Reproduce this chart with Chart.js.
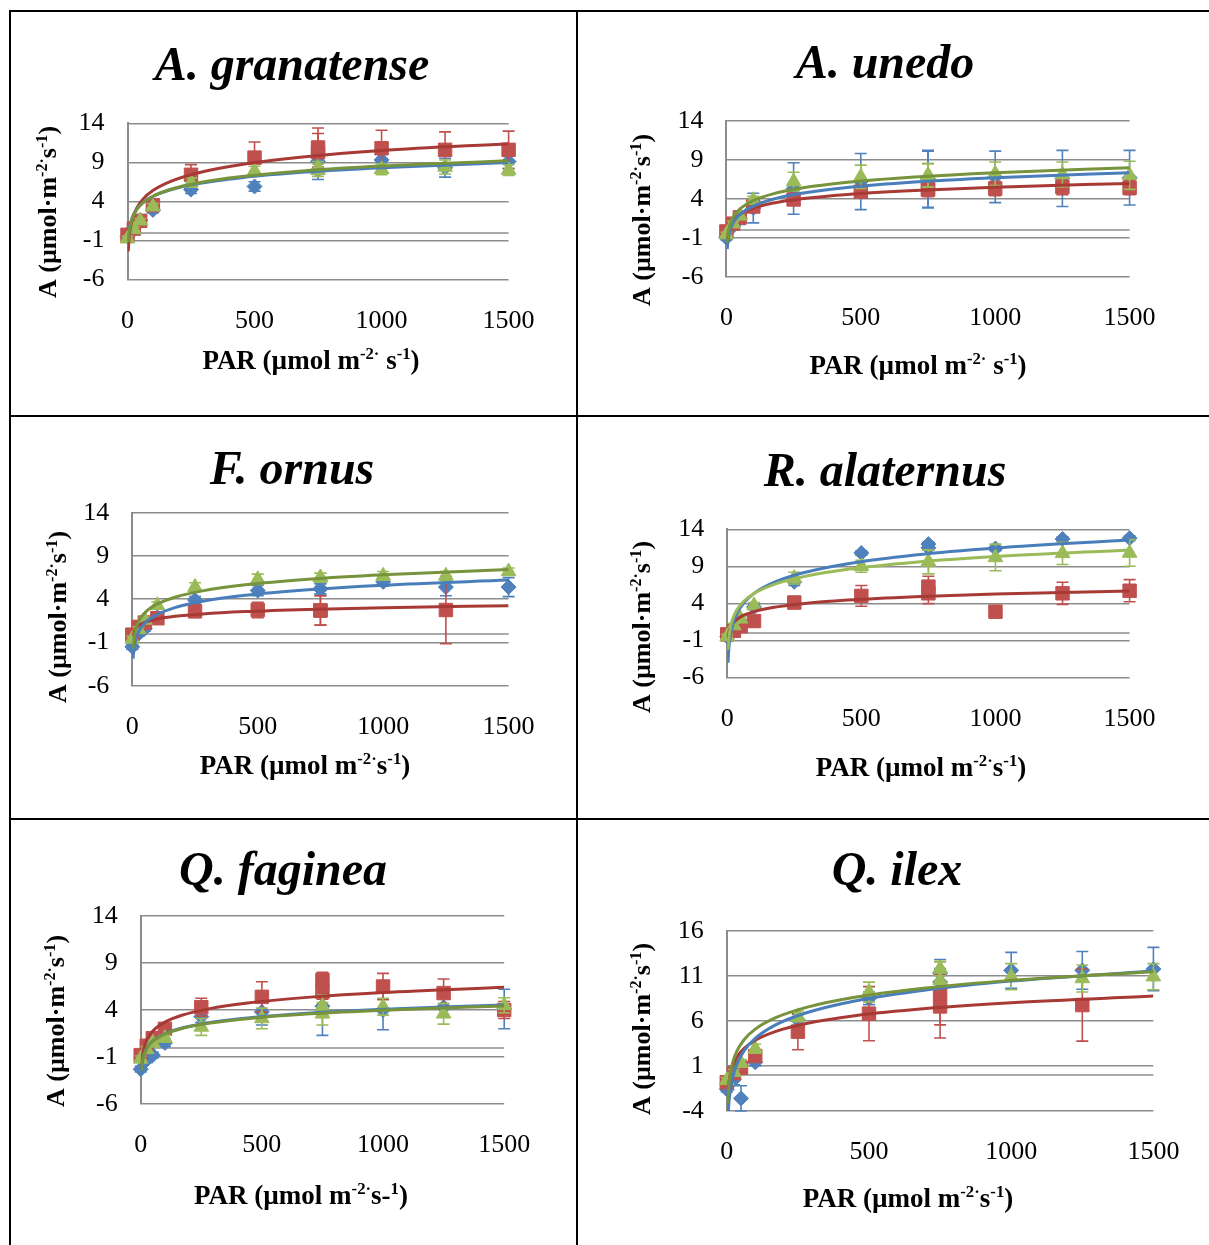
<!DOCTYPE html>
<html><head><meta charset="utf-8">
<script src="https://cdn.jsdelivr.net/npm/chart.js@4.4.0/dist/chart.umd.min.js"></script>
<style>
html,body{margin:0;padding:0;background:#fff;}
#page{position:relative;width:1209px;height:1245px;overflow:hidden;background:#fff;}
.ln{position:absolute;background:#000;}
canvas{position:absolute;}
</style></head><body><div id="page"></div>
<script>
// ---------------- DATA ----------------
const PAR = [0, 25, 50, 100, 250, 500, 750, 750, 1000, 1250, 1500];
const FIT_PAR = [3, 6, 10, 20, 35, 60, 100, 170, 280, 450, 700, 1000, 1500];
const xTickValues = [0, 500, 1000, 1500];
const yTicksA = [-6, -1, 4, 9, 14];
const yTicksB = [-4, 1, 6, 11, 16];
const panelTitles = ["A. granatense", "A. unedo", "F. ornus", "R. alaternus", "Q. faginea", "Q. ilex"];
const xTitles = ["PAR (µmol m^{-2·} s^{-1})", "PAR (µmol m^{-2·} s^{-1})", "PAR (µmol m^{-2·}s^{-1})",
                 "PAR (µmol m^{-2·}s^{-1})", "PAR (µmol m^{-2·}s-^{1})", "PAR (µmol m^{-2·}s^{-1})"];
const yTitle = "A (µmol·m^{-2·}s^{-1})";

// A. granatense
const granBlue = [-0.5, 0.6, 1.6, 2.9, 5.5, 5.9, 9.1, 8.0, 9.3, 8.3, 9.1];
const granBlueErr = [0.3, 0.3, 0.3, 0.4, 0.5, 0.6, 1.3, 1.2, 1.0, 1.2, 0.9];
const granRed = [-0.3, 0.5, 1.5, 3.5, 7.4, 9.6, 10.9, 10.3, 10.8, 10.6, 10.6];
const granRedErr = [0.3, 0.3, 0.4, 0.5, 1.3, 2.0, 2.5, 2.4, 2.3, 2.3, 2.4];
const granGreen = [-0.8, 0.4, 1.5, 3.3, 6.4, 7.9, 8.3, 8.0, 8.1, 8.4, 8.0];
const granGreenErr = [0.3, 0.3, 0.3, 0.4, 0.6, 0.6, 0.8, 0.8, 0.7, 0.9, 0.7];
const granBlueFit = [-0.98, 0.13, 0.94, 2.05, 2.95, 3.81, 4.63, 5.48, 6.28, 7.03, 7.74, 8.31, 8.96];
const granRedFit = [-2.40, -0.86, 0.27, 1.81, 3.05, 4.25, 5.38, 6.56, 7.67, 8.72, 9.70, 10.50, 11.39];
const granGreenFit = [-1.24, -0.08, 0.78, 1.94, 2.88, 3.79, 4.65, 5.54, 6.38, 7.17, 7.92, 8.52, 9.20];

// A. unedo
const unedoBlue = [-1.0, 0.5, 1.5, 2.8, 5.3, 6.2, 6.5, 6.5, 6.8, 6.6, 6.7];
const unedoBlueErr = [0.3, 0.4, 0.8, 1.9, 3.3, 3.6, 3.7, 3.6, 3.3, 3.6, 3.5];
const unedoRed = [-0.2, 0.8, 1.6, 3.0, 3.9, 4.9, 5.2, 5.2, 5.3, 5.5, 5.4];
const unedoRedErr = [0.3, 0.3, 0.4, 0.6, 0.6, 0.8, 0.9, 0.9, 0.9, 1.0, 0.9];
const unedoGreen = [-0.6, 0.8, 1.8, 3.8, 6.2, 6.8, 7.0, 7.0, 7.2, 7.1, 7.0];
const unedoGreenErr = [0.3, 0.3, 0.4, 0.5, 1.2, 1.5, 1.5, 1.5, 1.5, 1.6, 1.8];
const unedoBlueFit = [-2.46, -1.37, -0.56, 0.53, 1.41, 2.26, 3.06, 3.90, 4.69, 5.43, 6.13, 6.69, 7.33];
const unedoRedFit = [-1.31, -0.50, 0.09, 0.91, 1.56, 2.19, 2.79, 3.41, 3.99, 4.55, 5.06, 5.48, 5.96];
const unedoGreenFit = [-1.70, -0.62, 0.17, 1.25, 2.12, 2.96, 3.76, 4.58, 5.36, 6.10, 6.78, 7.34, 7.97];

// F. ornus
const ornusBlue = [-1.5, 0.0, 0.6, 1.9, 3.9, 5.0, 5.2, 5.2, 6.0, 5.4, 5.4];
const ornusBlueErr = [0.3, 0.3, 0.3, 0.4, 0.4, 0.6, 0.6, 0.6, 0.5, 1.0, 1.1];
const ornusRed = [-0.1, 0.8, 1.3, 1.8, 2.6, 2.75, 2.7, 2.7, null, 2.75, null];
const ornusRedErr = [0.3, 0.3, 0.3, 0.3, 0.7, 0.9, 1.7, 1.7, null, 3.9, null];
const ornusGreen = [-0.6, 0.5, 1.6, 3.3, 5.4, 6.3, 6.5, 6.5, 6.7, 6.7, 7.2];
const ornusGreenErr = [0.3, 0.3, 0.3, 0.4, 0.5, 0.6, 0.5, 0.5, 0.5, 0.5, 0.4];
const ornusBlueFit = [-2.87, -1.85, -1.11, -0.10, 0.72, 1.51, 2.25, 3.03, 3.76, 4.45, 5.09, 5.62, 6.21];
const ornusRedFit = [-0.26, 0.13, 0.42, 0.81, 1.13, 1.43, 1.72, 2.02, 2.30, 2.57, 2.82, 3.02, 3.25];
const ornusGreenFit = [-1.70, -0.69, 0.07, 1.08, 1.91, 2.70, 3.45, 4.23, 4.96, 5.66, 6.31, 6.83, 7.43];

// R. alaternus
const alatBlue = [-0.5, 0.5, 1.5, 3.5, 6.9, 10.8, 12.0, 11.5, 11.4, 12.7, 12.8];
const alatBlueErr = [0.2, 0.2, 0.3, 0.3, 0.5, 0.3, 0.3, 0.3, 0.3, 0.3, 0.3];
const alatRed = [-0.2, 0.3, 0.9, 1.6, 4.1, 5.0, 6.25, 5.35, 2.87, 5.35, 5.7];
const alatRedErr = [0.3, 0.3, 0.3, 0.3, 0.8, 1.4, 1.4, 1.4, 0.8, 1.5, 1.5];
const alatGreen = [-0.5, 1.0, 1.9, 3.7, 7.4, 9.0, 9.6, 9.6, 10.2, 10.75, 10.8];
const alatGreenErr = [0.3, 0.3, 0.3, 0.4, 0.8, 0.8, 1.6, 1.6, 1.8, 1.5, 1.8];
const alatBlueFit = [-4.03, -2.18, -0.81, 1.04, 2.53, 3.97, 5.34, 6.75, 8.09, 9.35, 10.53, 11.48, 12.57];
const alatRedFit = [-0.73, -0.01, 0.51, 1.23, 1.80, 2.36, 2.88, 3.43, 3.94, 4.43, 4.89, 5.26, 5.67];
const alatGreenFit = [-2.28, -0.77, 0.34, 1.84, 3.05, 4.22, 5.33, 6.49, 7.57, 8.60, 9.56, 10.33, 11.21];

// Q. faginea
const fagBlue = [-2.3, -1.3, -0.8, 0.5, 3.3, 3.8, 4.4, 4.0, 4.0, 4.3, 4.1];
const fagBlueErr = [0.3, 0.3, 0.3, 0.4, 0.6, 1.4, 1.0, 2.7, 2.1, 1.0, 2.1];
const fagRed = [-0.8, 0.2, 1.0, 2.0, 4.3, 5.4, 7.2, 5.95, 6.5, 5.8, 4.0];
const fagRedErr = [0.3, 0.3, 0.3, 0.4, 0.95, 1.6, 0.8, 0.8, 1.4, 1.5, 0.9];
const fagGreen = [-1.2, -0.2, 0.5, 1.0, 2.2, 3.1, 3.6, 4.4, 4.35, 3.6, 4.5];
const fagGreenErr = [0.3, 0.3, 0.3, 0.3, 0.9, 1.1, 1.2, 1.2, 0.9, 1.1, 0.8];
const fagBlueFit = [-2.43, -1.65, -1.08, -0.30, 0.32, 0.93, 1.50, 2.09, 2.65, 3.18, 3.68, 4.08, 4.53];
const fagRedFit = [-2.09, -1.14, -0.45, 0.50, 1.27, 2.01, 2.71, 3.44, 4.12, 4.77, 5.37, 5.86, 6.42];
const fagGreenFit = [-2.41, -1.65, -1.09, -0.32, 0.29, 0.88, 1.45, 2.03, 2.58, 3.10, 3.59, 3.98, 4.42];

// Q. ilex
const ilexBlue = [-1.6, -0.5, -2.6, 1.4, 6.1, 8.5, 11.3, 10.3, 11.6, 11.6, 11.75];
const ilexBlueErr = [0.3, 0.6, 1.4, 0.4, 0.6, 0.7, 1.5, 1.5, 2.0, 2.1, 2.4];
const ilexRed = [-0.8, 0.2, 0.8, 2.1, 4.8, 6.8, 9.05, 7.6, null, 7.75, null];
const ilexRedErr = [0.3, 0.3, 0.4, 0.5, 2.0, 3.0, 3.5, 3.5, null, 4.0, null];
const ilexGreen = [-0.6, 0.3, 1.3, 2.9, 6.5, 9.2, 11.8, 10.5, 10.9, 10.7, 10.9];
const ilexGreenErr = [0.3, 0.3, 0.4, 0.5, 0.6, 1.1, 0.8, 0.8, 1.45, 1.5, 1.45];
const ilexBlueFit = [-5.62, -3.70, -2.29, -0.38, 1.16, 2.65, 4.06, 5.53, 6.90, 8.21, 9.43, 10.42, 11.53];
const ilexRedFit = [-2.50, -1.25, -0.32, 0.93, 1.94, 2.92, 3.85, 4.81, 5.71, 6.57, 7.37, 8.01, 8.75];
const ilexGreenFit = [-3.16, -1.53, -0.33, 1.30, 2.61, 3.88, 5.08, 6.33, 7.50, 8.62, 9.65, 10.49, 11.45];

// ---------------- LAYOUT / STYLE ----------------
const cellBoxes = [[11,12,565,403],[578,12,631,403],[11,417,565,401],[578,417,631,401],[11,820,565,425],[578,820,631,425]];
const plotBoxes = [[127.5,123.3,508.6,279.3],[726.4,120.7,1129.6,276.7],[132.3,512.7,508.6,685.7],
                   [727.2,529.3,1129.6,677.3],[140.7,916,504.2,1104],[726.8,930.7,1153.4,1111]];
const titlePos = [[292,80],[885,78],[292,484],[885,486],[283,885],[897,885]];
const xTitlePos = [[311,360],[918,365],[305,765],[921,767],[301,1195],[908,1198]];
const yTitlePos = [[48,212],[642,220],[58,617],[642,627],[56,1021],[642,1029]];
const FONT = '"Liberation Serif", "Times New Roman", serif';
const MARK = {blue:'#4F81BD', red:'#C0504D', green:'#9BBB59'};
const GRID = '#8c8c8c';
const TICK_SIZE = 26, TITLE_SIZE = 48, XT_SIZE = 27, YT_SIZE = 26;

const panels = [
  {blue:[granBlue,granBlueErr,granBlueFit], red:[granRed,granRedErr,granRedFit], green:[granGreen,granGreenErr,granGreenFit], yTicks:yTicksA, greenLine:'#77933C'},
  {blue:[unedoBlue,unedoBlueErr,unedoBlueFit], red:[unedoRed,unedoRedErr,unedoRedFit], green:[unedoGreen,unedoGreenErr,unedoGreenFit], yTicks:yTicksA, greenLine:'#77933C'},
  {blue:[ornusBlue,ornusBlueErr,ornusBlueFit], red:[ornusRed,ornusRedErr,ornusRedFit], green:[ornusGreen,ornusGreenErr,ornusGreenFit], yTicks:yTicksA, greenLine:'#77933C'},
  {blue:[alatBlue,alatBlueErr,alatBlueFit], red:[alatRed,alatRedErr,alatRedFit], green:[alatGreen,alatGreenErr,alatGreenFit], yTicks:yTicksA, greenLine:'#9BBB59'},
  {blue:[fagBlue,fagBlueErr,fagBlueFit], red:[fagRed,fagRedErr,fagRedFit], green:[fagGreen,fagGreenErr,fagGreenFit], yTicks:yTicksA, greenLine:'#77933C'},
  {blue:[ilexBlue,ilexBlueErr,ilexBlueFit], red:[ilexRed,ilexRedErr,ilexRedFit], green:[ilexGreen,ilexGreenErr,ilexGreenFit], yTicks:yTicksB, greenLine:'#77933C'}
];

// ---------------- PAGE FRAME ----------------
const page = document.getElementById('page');
function line(x,y,w,h){const d=document.createElement('div');d.className='ln';Object.assign(d.style,{left:x+'px',top:y+'px',width:w+'px',height:h+'px'});page.appendChild(d);}
line(9,10,1200,2); line(9,415,1200,2); line(9,818,1200,2);
line(9,10,2,1235); line(576,10,2,1235);

// ---------------- HELPERS ----------------
function parseRich(s){
  const segs=[]; const re=/\^\{([^}]*)\}/g; let last=0,m;
  while((m=re.exec(s))){ if(m.index>last) segs.push({t:s.slice(last,m.index),sup:false}); segs.push({t:m[1],sup:true}); last=re.lastIndex; }
  if(last<s.length) segs.push({t:s.slice(last),sup:false});
  return segs;
}
function drawRich(ctx, text, cx, cy, size, rot){
  const segs=parseRich(text);
  ctx.save(); ctx.translate(cx,cy); if(rot) ctx.rotate(rot);
  ctx.textAlign='left'; ctx.textBaseline='alphabetic'; ctx.fillStyle='#000';
  let total=0; const ws=segs.map(s=>{ctx.font='bold '+(s.sup?size*0.62:size)+'px '+FONT; const w=ctx.measureText(s.t).width; total+=w; return w;});
  let x=-total/2; const base=size*0.32;
  segs.forEach((s,i)=>{ctx.font='bold '+(s.sup?size*0.62:size)+'px '+FONT; ctx.fillText(s.t,x,base-(s.sup?size*0.36:0)); x+=ws[i];});
  ctx.restore();
}

const zeroLine = {id:'zeroLine', beforeDatasetsDraw(chart){
  const {ctx,chartArea:a,scales:{y}}=chart; const py=Math.round(y.getPixelForValue(0));
  ctx.save(); ctx.strokeStyle=GRID; ctx.lineWidth=1.5; ctx.beginPath(); ctx.moveTo(a.left,py); ctx.lineTo(a.right,py); ctx.stroke(); ctx.restore();
}};
const errorBars = {id:'errorBars', beforeDatasetDraw(chart,args){
  const ds=chart.data.datasets[args.index]; if(!ds.errors) return;
  const {ctx,scales:{x,y}}=chart;
  ctx.save(); ctx.strokeStyle=ds.errorColor; ctx.lineWidth=1.6;
  ds.data.forEach((p,i)=>{ const e=ds.errors[i]; if(p.y==null||e==null) return;
    const px=x.getPixelForValue(p.x), t=y.getPixelForValue(p.y+e), b=y.getPixelForValue(p.y-e);
    ctx.beginPath(); ctx.moveTo(px,t); ctx.lineTo(px,b); ctx.moveTo(px-6,t); ctx.lineTo(px+6,t); ctx.moveTo(px-6,b); ctx.lineTo(px+6,b); ctx.stroke(); });
  ctx.restore();
}};
const texts = {id:'texts', afterDraw(chart){
  const o=chart.options.plugins.texts; const ctx=chart.ctx; const [cx0,cy0]=o.origin;
  ctx.save(); ctx.font='italic bold '+TITLE_SIZE+'px '+FONT; ctx.fillStyle='#000'; ctx.textAlign='center'; ctx.textBaseline='alphabetic';
  ctx.fillText(o.title,o.titlePos[0]-cx0,o.titlePos[1]-cy0); ctx.restore();
  drawRich(ctx,o.xTitle,o.xPos[0]-cx0,o.xPos[1]-cy0,XT_SIZE,0);
  drawRich(ctx,o.yTitle,o.yPos[0]-cx0,o.yPos[1]-cy0,YT_SIZE,-Math.PI/2);
}};

function pts(xs,ys){return xs.map((x,i)=>({x:x,y:ys[i]}));}

panels.forEach((p,k)=>{
  const [cx,cy,cw,ch]=cellBoxes[k]; const [pl,pt,pr,pb]=plotBoxes[k];
  const cv=document.createElement('canvas'); cv.width=cw; cv.height=ch;
  Object.assign(cv.style,{left:cx+'px',top:cy+'px',width:cw+'px',height:ch+'px'}); page.appendChild(cv);
  const yAxisW = pl-cx-2, xAxisH = cy+ch-pb-2;
  const scatter=(name,shape,r,ord)=>({type:'scatter',data:pts(PAR,p[name][0]),errors:p[name][1],errorColor:MARK[name],
     showLine:false,pointStyle:shape,pointRadius:r,pointBackgroundColor:MARK[name],pointBorderColor:MARK[name],pointBorderWidth:1,clip:false,order:ord});
  const fit=(name,color,ord)=>({type:'scatter',data:pts(FIT_PAR,p[name][2]),showLine:true,borderColor:color,borderWidth:3,
     pointRadius:0,cubicInterpolationMode:'monotone',fill:false,clip:0,order:ord});
  const yT=p.yTicks;
  new Chart(cv,{
    type:'scatter',
    data:{datasets:[
      scatter('blue','rectRot',7.5,12), scatter('red','rect',9.5,11), scatter('green','triangle',8.5,10),
      fit('red','#A83A36',3), fit('blue','#4A7EBB',2), fit('green',p.greenLine,1)
    ]},
    options:{
      responsive:false, animation:false, devicePixelRatio:1,
      layout:{padding:{left:2, top:pt-cy, right:cx+cw-pr, bottom:2}},
      plugins:{legend:{display:false}, tooltip:{enabled:false},
        texts:{origin:[cx,cy], title:panelTitles[k], titlePos:titlePos[k], xTitle:xTitles[k], xPos:xTitlePos[k], yTitle:yTitle, yPos:yTitlePos[k]}},
      scales:{
        x:{type:'linear', min:0, max:1500, afterFit:s=>{s.height=xAxisH;},
           afterBuildTicks:s=>{s.ticks=xTickValues.map(v=>({value:v}));},
           grid:{display:false, drawTicks:false}, border:{display:false},
           ticks:{padding:26, maxRotation:0, autoSkip:false, color:'#000', font:{family:FONT,size:TICK_SIZE}, callback:v=>String(v)}},
        y:{type:'linear', min:yT[0], max:yT[yT.length-1], afterFit:s=>{s.width=yAxisW;},
           afterBuildTicks:s=>{s.ticks=yT.map(v=>({value:v}));},
           grid:{color:GRID, lineWidth:1.5, drawTicks:false}, border:{display:true,color:GRID,width:2},
           ticks:{padding:23, autoSkip:false, color:'#000', font:{family:FONT,size:TICK_SIZE}, callback:v=>String(v)}}
      }
    },
    plugins:[zeroLine,errorBars,texts]
  });
});
</script></body></html>
